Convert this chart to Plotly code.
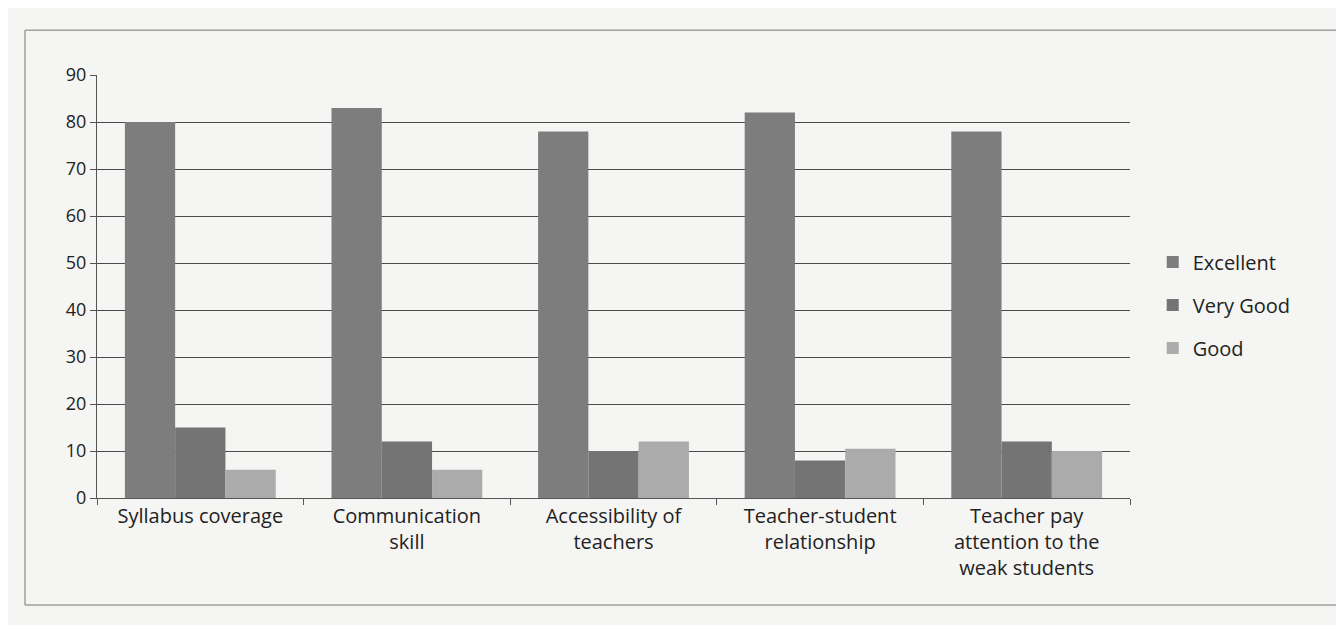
import plotly.graph_objects as go

categories = ["Syllabus coverage", "Communication<br>skill", "Accessibility of<br>teachers",
              "Teacher-student<br>relationship", "Teacher pay<br>attention to the<br>weak students"]
excellent = [80, 83, 78, 82, 78]
very_good = [15, 12, 10, 8, 12]
good = [6, 6, 12, 10.5, 10]
y_ticks = [0, 10, 20, 30, 40, 50, 60, 70, 80, 90]

FONT = "Open Sans"
fig = go.Figure()
fig.add_trace(go.Bar(name="Excellent", x=categories, y=excellent, legendgroup="a",
                     marker=dict(color="#7d7d7d", line=dict(width=0))))
fig.add_trace(go.Bar(name="Very Good", x=categories, y=very_good, legendgroup="b",
                     marker=dict(color="#747474", line=dict(width=0))))
fig.add_trace(go.Bar(name="Good", x=categories, y=good, legendgroup="c",
                     marker=dict(color="#ababab", line=dict(width=0))))

fig.update_layout(
    width=1344, height=625,
    barmode="group", bargap=0.27, bargroupgap=0,
    paper_bgcolor="#f5f5f3", plot_bgcolor="#f5f5f3",
    margin=dict(l=89, r=222, t=67, b=135),
    font=dict(family=FONT, size=20, color="#222"),
    legend=dict(x=1.022, y=0.456, xanchor="left", yanchor="middle",
                font=dict(size=20, color="#222"), itemsizing="constant",
                tracegroupgap=14, bgcolor="rgba(0,0,0,0)", itemwidth=30),
    showlegend=True,
)
fig.update_yaxes(range=[0, 90], tickvals=y_ticks, showgrid=True, gridcolor="#4a4a4a",
                 gridwidth=1, showline=True, linecolor="#555", ticks="outside",
                 ticklen=6, tickcolor="#555", tickfont=dict(size=18), zeroline=False)
fig.update_xaxes(showline=True, linecolor="#555", ticks="outside", tickson="boundaries",
                 ticklen=6, tickcolor="#555", tickfont=dict(size=20), showgrid=False)
fig.add_shape(type="rect", xref="paper", yref="paper", x0=-0.0697, x1=1.203, y0=-0.253, y1=1.106,
              line=dict(color="#777", width=1), fillcolor="rgba(0,0,0,0)", layer="below")
fig.write_html("out.html")
